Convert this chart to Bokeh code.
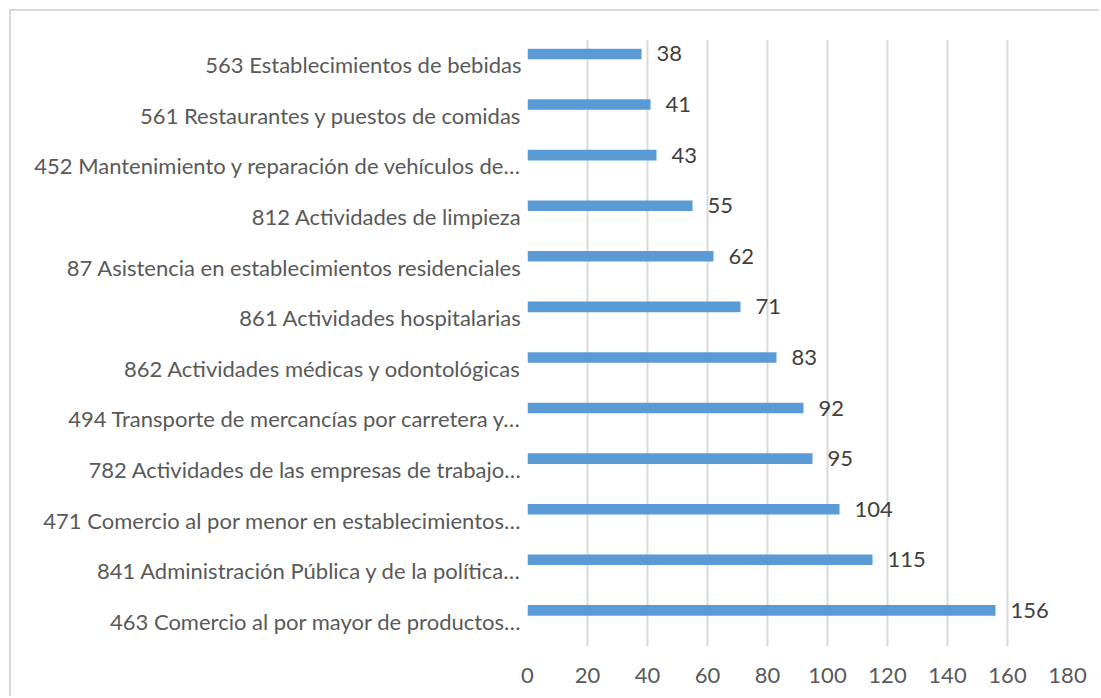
from bokeh.plotting import figure
from bokeh.models import ColumnDataSource, FactorRange, Range1d, FixedTicker, LabelSet
from bokeh.transform import dodge
from bokeh.core.properties import value
from bokeh.embed import file_html
from bokeh.resources import INLINE

# Data (top to bottom as displayed)
categories = [
    "563 Establecimientos de bebidas",
    "561 Restaurantes y puestos de comidas",
    "452 Mantenimiento y reparación de vehículos de…",
    "812 Actividades de limpieza",
    "87 Asistencia en establecimientos residenciales",
    "861 Actividades hospitalarias",
    "862 Actividades médicas y odontológicas",
    "494 Transporte de mercancías por carretera y…",
    "782 Actividades de las empresas de trabajo…",
    "471 Comercio al por menor en establecimientos…",
    "841 Administración Pública y de la política…",
    "463 Comercio al por mayor de productos…",
]
counts = [38, 41, 43, 55, 62, 71, 83, 92, 95, 104, 115, 156]
x_ticks = [0, 20, 40, 60, 80, 100, 120, 140, 160, 180]

FONT = "Lato"
TEXT_COLOR = "#595959"

cats_bottom_up = list(reversed(categories))
vals_bottom_up = list(reversed(counts))
source = ColumnDataSource(dict(
    cat=cats_bottom_up,
    val=vals_bottom_up,
    lbl=[str(v) for v in vals_bottom_up],
))

p = figure(
    width=1090, height=687,
    y_range=FactorRange(factors=cats_bottom_up, range_padding=0),
    x_range=Range1d(0, 180),
    output_backend="svg", toolbar_location=None,
    min_border_left=516, min_border_right=34, min_border_top=28, min_border_bottom=52,
)
p.styles = {"margin-left": "9px", "margin-top": "9px",
            "border-top": "2px solid #D9D9D9", "border-left": "2px solid #D9D9D9"}

p.hbar(y=dodge("cat", 0.214, range=p.y_range), right="val", left=0, height=0.21,
       source=source, fill_color="#5B9BD5", line_color=None)

labels = LabelSet(x="val", y=dodge("cat", 0.214, range=p.y_range), text="lbl", source=source,
                  x_offset=15, text_align="left", text_baseline="middle",
                  text_font=value(FONT), text_font_size="22px", text_color="#404040")
p.add_layout(labels)

p.outline_line_color = None
p.background_fill_color = "white"
p.border_fill_color = "white"

p.xaxis.ticker = FixedTicker(ticks=x_ticks)
p.xaxis.axis_line_color = None
p.xaxis.major_tick_line_color = None
p.xaxis.minor_tick_line_color = None
p.xaxis.major_label_standoff = 15
p.xaxis.major_label_text_font = FONT
p.xaxis.major_label_text_font_size = "22px"
p.xaxis.major_label_text_color = TEXT_COLOR

p.yaxis.axis_line_color = None
p.yaxis.major_tick_line_color = None
p.yaxis.minor_tick_line_color = None
p.yaxis.major_label_standoff = 0
p.yaxis.major_label_text_font = FONT
p.yaxis.major_label_text_font_size = "22px"
p.yaxis.major_label_text_color = TEXT_COLOR

p.xgrid.grid_line_color = "#D9D9D9"
p.xgrid.grid_line_width = 2
p.ygrid.grid_line_color = None

open("out.html", "w").write(file_html(p, INLINE))
